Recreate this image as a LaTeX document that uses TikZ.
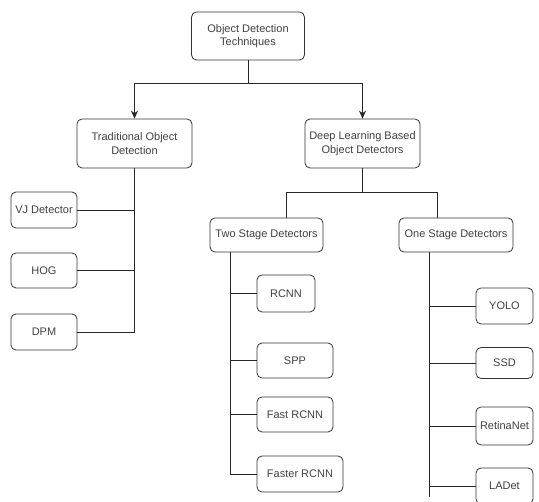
\documentclass[tikz,border=0pt]{standalone}
\usepackage{fontspec}
\setmainfont{Liberation Sans}
\usepackage{tikz}
\usetikzlibrary{arrows.meta}

\begin{document}
\begin{tikzpicture}[x=1pt,y=-1pt,
            box node/.style={draw=black!80,rounded corners=5pt,align=center,
                inner sep=1pt,text=black!75,font=\fontsize{11}{13.5}\selectfont,line width=0.8pt},
            link/.style={draw=black!85,line width=0.8pt},
            arrow link/.style={link,-{Stealth[length=8pt,width=7pt]}},
            ]
            \useasboundingbox (0,0) rectangle (539,502);
            \clip (0,0) rectangle (539,502);

            % top levels
            \node[box node, minimum width=113pt, minimum height=48pt] (root) at (248,36) {Object Detection\\Techniques};
            \node[box node, minimum width=115pt, minimum height=49pt] (trad) at (134.5,143.5) {Traditional Object\\Detection};
            \node[box node, minimum width=115pt, minimum height=49pt] (dl) at (362.5,143.5) {Deep Learning Based\\Object Detectors};

            % traditional
            \node[box node, minimum width=66pt, minimum height=36pt] (vj) at (44,210) {VJ Detector};
            \node[box node, minimum width=66pt, minimum height=35pt] (hog) at (44,270.5) {HOG};
            \node[box node, minimum width=66pt, minimum height=36pt] (dpm) at (44,332) {DPM};

            % deep learning
            \node[box node, minimum width=113pt, minimum height=34pt] (two) at (266.5,235) {Two Stage Detectors};
            \node[box node, minimum width=114pt, minimum height=34pt] (one) at (456,235) {One Stage Detectors};

            \node[box node, minimum width=58pt, minimum height=37pt] (rcnn) at (286,293.5) {RCNN};
            \node[box node, minimum width=76pt, minimum height=35pt] (spp) at (295,360.5) {SPP};
            \node[box node, minimum width=76pt, minimum height=35pt] (fast) at (295,414.5) {Fast RCNN};
            \node[box node, minimum width=86pt, minimum height=36pt] (faster) at (300,474) {Faster RCNN};

            \node[box node, minimum width=57pt, minimum height=36pt] (yolo) at (504.5,306) {YOLO};
            \node[box node, minimum width=57pt, minimum height=31pt] (ssd) at (504.5,363) {SSD};
            \node[box node, minimum width=57pt, minimum height=38pt] (retina) at (504.5,426) {RetinaNet};
            \node[box node, minimum width=57pt, minimum height=36pt] (ladet) at (504.5,486) {LADet};

            \coordinate (t2) at ([xshift=-36.5pt]two.south);
            \coordinate (t1) at ([xshift=-27pt]one.south);

            % connectors
            \draw[arrow link] (root.south) -- ++(0,23) -| (trad.north);
            \draw[arrow link] (root.south) -- ++(0,23) -| (dl.north);

            \draw[link] (trad.south) |- (vj.east);
            \draw[link] (trad.south) |- (hog.east);
            \draw[link] (trad.south) |- (dpm.east);

            \draw[link] (dl.south) -- ++(0,24) -| ([xshift=19.5pt]two.north);
            \draw[link] (dl.south) -- ++(0,24) -| ([xshift=-19pt]one.north);

            \draw[link] (t2) |- (rcnn.west);
            \draw[link] (t2) |- (spp.west);
            \draw[link] (t2) |- (fast.west);
            \draw[link] (t2) |- (faster.west);

            \draw[link] (t1) |- (yolo.west);
            \draw[link] (t1) |- (ssd.west);
            \draw[link] (t1) |- (retina.west);
            \draw[link] (t1) |- (ladet.west);
            \draw[link] (t1 |- ladet.west) -- ([yshift=-11pt]t1 |- ladet.west);
        \end{tikzpicture}
\end{document}
